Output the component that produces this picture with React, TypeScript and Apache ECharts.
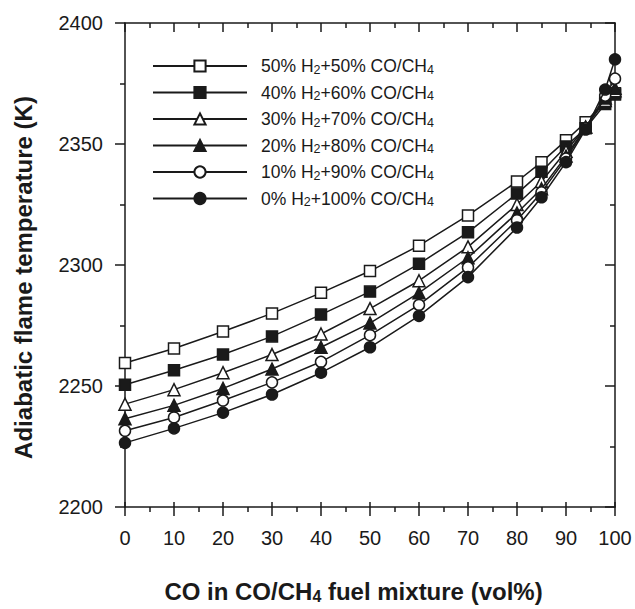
import React, { useEffect, useRef } from "react";
import * as echarts from "echarts";

const FONT = "'Liberation Sans', Arial, Helvetica, sans-serif";

const coFraction = [0, 10, 20, 30, 40, 50, 60, 70, 80, 85, 90, 94, 98, 100];

const seriesNames = [
  "50% H2+50% CO/CH4",
  "40% H2+60% CO/CH4",
  "30% H2+70% CO/CH4",
  "20% H2+80% CO/CH4",
  "10% H2+90% CO/CH4",
  "0% H2+100% CO/CH4",
];

const h2_50 = [2259.5, 2265.5, 2272.5, 2280, 2288.5, 2297.5, 2308, 2320.5, 2334.5, 2342.5, 2351.5, 2359, 2368, 2371];
const h2_40 = [2250.5, 2256.5, 2263, 2270.5, 2279.5, 2289, 2300.5, 2313.5, 2329.5, 2338.5, 2349, 2356.5, 2366.5, 2370.5];
const h2_30 = [2242.5, 2248.5, 2255.5, 2263, 2271.5, 2282, 2293.5, 2307.5, 2325, 2334.5, 2347, 2357, 2368, 2372];
const h2_20 = [2236.5, 2242, 2249, 2257, 2266, 2276, 2288.5, 2303, 2321.5, 2331.5, 2345, 2357, 2369, 2373];
const h2_10 = [2231.5, 2237, 2244, 2251.5, 2260, 2271, 2283.5, 2299, 2318.5, 2330, 2344, 2356.5, 2370, 2377];
const h2_0 = [2226.5, 2232.5, 2239, 2246.5, 2255.5, 2266, 2279, 2295, 2315.5, 2328, 2342.5, 2356, 2372.5, 2385];

const seriesValues = [h2_50, h2_40, h2_30, h2_20, h2_10, h2_0];
const seriesSymbols = ["rect", "rect", "triangle", "triangle", "circle", "circle"];
const seriesFilled = [false, true, false, true, false, true];

const yTicks = { min: 2200, max: 2400, interval: 50 };
const xTicks = { min: 0, max: 100, interval: 10 };

const sub = (s: string) => s.replace(/H2/g, "H{s|2}").replace(/CH4/g, "CH{s|4}");

export default function App() {
  const ref = useRef<HTMLDivElement>(null);
  useEffect(() => {
    if (!ref.current) return;
    const chart = echarts.init(ref.current, undefined, { renderer: "svg" });
    const black = "#1a1a1a";
    const hiddenAxisBase = {
      type: "value" as const,
      min: xTicks.min,
      max: xTicks.max,
      interval: xTicks.interval,
      axisLabel: { show: false },
      splitLine: { show: false },
    };
    const series = seriesNames.map((name, i) => ({
      name,
      type: "line",
      xAxisIndex: 0,
      yAxisIndex: 0,
      data: coFraction.map((x, j) => [x, seriesValues[i][j]]),
      symbol: seriesSymbols[i],
      symbolSize: seriesSymbols[i] === "triangle" ? 12 : 11,
      showAllSymbol: true,
      lineStyle: { color: black, width: 1.5 },
      itemStyle: {
        color: seriesFilled[i] ? black : "#ffffff",
        borderColor: black,
        borderWidth: 1.5,
      },
      z: 2 + i,
    }));
    chart.setOption({
      animation: false,
      backgroundColor: "#ffffff",
      textStyle: { fontFamily: FONT },
      grid: { left: 125, right: 20, top: 23, bottom: 94, containLabel: false },
      legend: {
        orient: "vertical",
        left: 147,
        top: 51,
        itemWidth: 94,
        itemHeight: 14,
        itemGap: 6.5,
        data: seriesNames,
        formatter: (n: string) => sub(n),
        textStyle: {
          fontFamily: FONT,
          fontSize: 17.5,
          color: black,
          lineHeight: 20,
          padding: [0, 0, 0, 9],
          rich: {
            s: { fontSize: 12.5, fontFamily: FONT, color: black, verticalAlign: "bottom", lineHeight: 13, padding: [4, 0, 0, 0] },
          },
        },
      },
      xAxis: [
        {
          ...hiddenAxisBase,
          position: "bottom",
          axisLine: { onZero: false, lineStyle: { color: black, width: 1.5 } },
          axisTick: { inside: false, length: 9, lineStyle: { color: black, width: 1.5 } },
          minorTick: { show: true, splitNumber: 2, length: 5, lineStyle: { color: black, width: 1.5 } },
          axisLabel: { show: true, fontSize: 20, color: black, margin: 21, fontFamily: FONT, formatter: (v: number) => String(v) },
          name: "CO in CO/CH{sb|4} fuel mixture (vol%)",
          nameLocation: "middle",
          nameGap: 72,
          nameTextStyle: {
            fontSize: 24,
            fontWeight: "bold",
            color: black,
            fontFamily: FONT,
            padding: [0, 33, 0, 0],
            rich: {
              sb: { fontSize: 16, fontWeight: "bold", fontFamily: FONT, color: black, verticalAlign: "bottom", padding: [9, 0, 0, 0] },
            },
          },
        },
        {
          ...hiddenAxisBase,
          position: "top",
          axisLine: { onZero: false, lineStyle: { color: black, width: 1.5 } },
          axisTick: { inside: true, length: 9, lineStyle: { color: black, width: 1.5 } },
          minorTick: { show: true, splitNumber: 2, length: 5, lineStyle: { color: black, width: 1.5 } },
        },
        {
          ...hiddenAxisBase,
          position: "bottom",
          axisLine: { show: false, onZero: false },
          axisTick: { inside: true, length: 5, lineStyle: { color: black, width: 1.5 } },
        },
      ],
      yAxis: [
        {
          type: "value",
          position: "left",
          min: yTicks.min,
          max: yTicks.max,
          interval: yTicks.interval,
          splitLine: { show: false },
          axisLine: { onZero: false, lineStyle: { color: black, width: 1.5 } },
          axisTick: { inside: false, length: 10, lineStyle: { color: black, width: 1.5 } },
          minorTick: { show: true, splitNumber: 2, length: 5, lineStyle: { color: black, width: 1.5 } },
          axisLabel: { fontSize: 20, color: black, margin: 22, fontFamily: FONT, formatter: (v: number) => String(v) },
          name: "Adiabatic flame temperature (K)",
          nameLocation: "middle",
          nameGap: 90,
          nameTextStyle: { fontSize: 24, fontWeight: "bold", color: black, fontFamily: FONT, padding: [0, 25, 0, 0] },
        },
        {
          type: "value",
          position: "right",
          min: yTicks.min,
          max: yTicks.max,
          interval: yTicks.interval,
          splitLine: { show: false },
          axisLabel: { show: false },
          axisLine: { onZero: false, lineStyle: { color: black, width: 1.5 } },
          axisTick: { inside: true, length: 10, lineStyle: { color: black, width: 1.5 } },
          minorTick: { show: true, splitNumber: 2, length: 5, lineStyle: { color: black, width: 1.5 } },
        },
      ],
      series,
    });
    return () => chart.dispose();
  }, []);
  return <div ref={ref} style={{ width: 635, height: 609, position: "absolute", left: 0, top: 0 }} />;
}
